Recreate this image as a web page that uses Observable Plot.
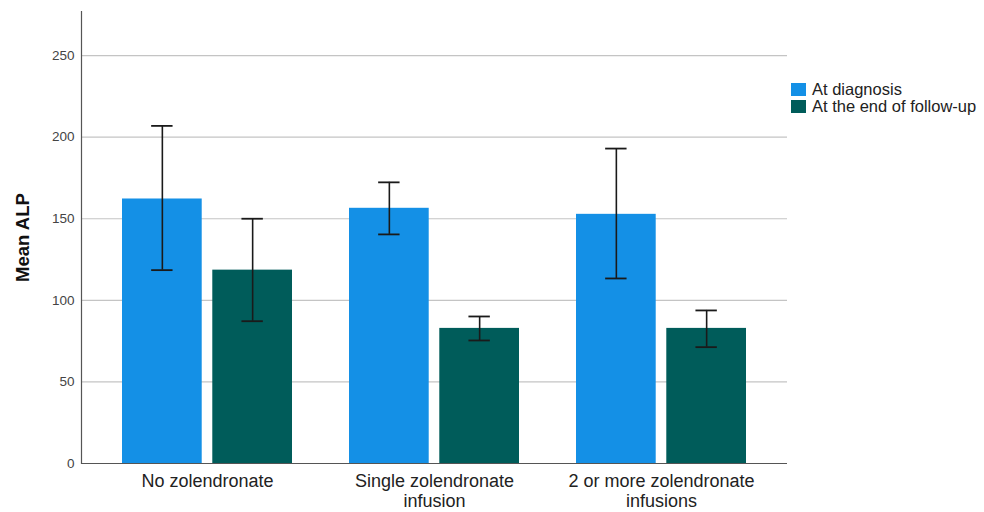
<!DOCTYPE html>
<html><head><meta charset="utf-8">
<script src="https://cdn.jsdelivr.net/npm/d3@7"></script>
<script src="https://cdn.jsdelivr.net/npm/@observablehq/plot@0.6"></script>
<style>
body{margin:0;background:#fff;font-family:"Liberation Sans",Arial,sans-serif}
#wrap{position:relative;width:984px;height:512px}
#legend{position:absolute;left:791px;top:81px;font-size:16.5px;color:#222}
.item{display:flex;align-items:center;height:17px;white-space:nowrap}
.sw{width:15px;height:13px;margin-right:6px;flex:none}
</style></head><body><div id="wrap"><div id="legend"></div></div>
<script>
const groups = ["No zolendronate", "Single zolendronate infusion", "2 or more zolendronate infusions"];
const groupLabels = ["No zolendronate", "Single zolendronate\ninfusion", "2 or more zolendronate\ninfusions"];
const series = ["At diagnosis", "At the end of follow-up"];
const colors = ["#1490e6", "#005c5a"];
const meanDiag = [162.1, 156.4, 152.7];
const lowDiag = [118.5, 140.4, 113.4];
const highDiag = [206.9, 172.3, 193.0];
const meanEnd = [118.5, 82.8, 82.8];
const lowEnd = [87.2, 75.4, 71.3];
const highEnd = [150.0, 90.1, 93.8];
const yTicks = [0, 50, 100, 150, 200, 250];

const diag = groups.map((g, i) => ({group: g, series: series[0], mean: meanDiag[i], low: lowDiag[i], high: highDiag[i]}));
const endf = groups.map((g, i) => ({group: g, series: series[1], mean: meanEnd[i], low: lowEnd[i], high: highEnd[i]}));

// layout
const W = 984, H = 512, ML = 81, MR = 197, MT = 11, MB = 49;
const PI = 0.25, PO = 0.177, GAP = 10, CAP = 22;
const step = (W - ML - MR) / (groups.length - PI + 2 * PO);
const bw = step * (1 - PI);
const barW = (bw - GAP) / 2;
const off = (bw - barW) / 2; // offset from band centre to bar centre
const capIn = barW / 2 - CAP / 2;

const ebar = (d, sign) => [
  Plot.ruleX(d, {x: "group", y1: "low", y2: "high", dx: sign * off, stroke: "#1a1a1a", strokeWidth: 1.6}),
  ...["low", "high"].map(k => Plot.tickY(d, {x: "group", y: k,
    insetLeft: sign < 0 ? capIn : bw - barW + capIn,
    insetRight: sign < 0 ? bw - barW + capIn : capIn,
    stroke: "#1a1a1a", strokeWidth: 1.8}))
];

const chart = Plot.plot({
  width: W, height: H,
  marginLeft: ML, marginRight: MR, marginTop: MT, marginBottom: MB,
  style: {fontFamily: "'Liberation Sans', Arial, sans-serif", background: "#fff", overflow: "visible"},
  x: {domain: groups, paddingInner: PI, paddingOuter: PO, label: null, axis: null},
  y: {domain: [0, 277], label: null, axis: null},
  color: {domain: series, range: colors},
  marks: [
    Plot.ruleY(yTicks.slice(1), {stroke: "#c4c4c4", strokeWidth: 1.2}),
    Plot.barY(diag, {x: "group", y: "mean", fill: "series", insetRight: bw - barW}),
    Plot.barY(endf, {x: "group", y: "mean", fill: "series", insetLeft: bw - barW}),
    ...ebar(diag, -1),
    ...ebar(endf, 1),
    Plot.ruleY([0], {stroke: "#555", strokeWidth: 1.2}),
    Plot.frame({anchor: "left", stroke: "#555", strokeWidth: 1.2}),
    Plot.axisY(yTicks, {anchor: "left", tickSize: 0, tickPadding: 7, fontSize: 13.5, color: "#444", label: null}),
    Plot.axisX({tickSize: 0, tickPadding: 10, fontSize: 18, lineHeight: 1.08, color: "#222", label: null,
      tickFormat: d => groupLabels[groups.indexOf(d)]}),
    Plot.text(["Mean ALP"], {frameAnchor: "left", textAnchor: "middle", rotate: -90, dx: -58, fontSize: 18.5, fontWeight: "bold", fill: "#111"})
  ]
});
const wrap = document.getElementById("wrap");
wrap.insertBefore(chart, wrap.firstChild);
const legend = document.getElementById("legend");
series.forEach((s, i) => {
  const it = document.createElement("div"); it.className = "item";
  const sw = document.createElement("span"); sw.className = "sw"; sw.style.background = colors[i];
  const t = document.createElement("span"); t.textContent = s;
  it.appendChild(sw); it.appendChild(t); legend.appendChild(it);
});
</script></body></html>
